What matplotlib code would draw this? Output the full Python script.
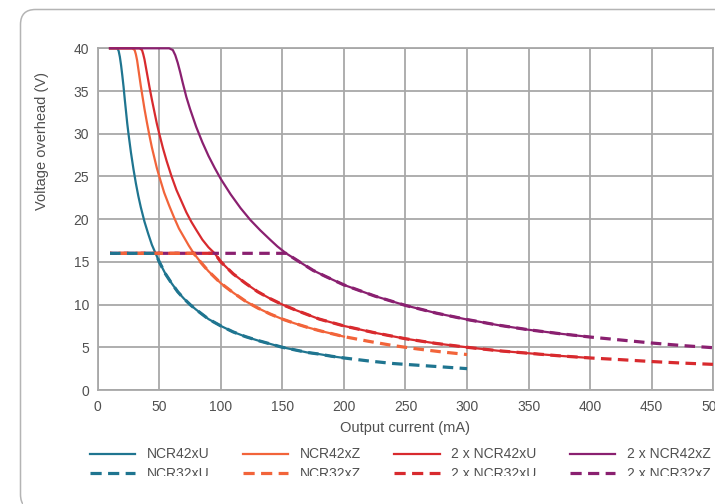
import matplotlib
matplotlib.use("Agg")
import matplotlib.pyplot as plt
from matplotlib.patches import FancyBboxPatch, Rectangle
from matplotlib.lines import Line2D

plt.rcParams['font.family'] = ['Liberation Sans', 'DejaVu Sans']

# ---- data ----
x_42U = [10, 16, 17, 18, 19, 20, 21, 22, 23, 24, 25, 27, 29, 31, 33, 35, 38, 41, 44, 47, 50, 55, 60, 65, 70, 75, 80, 90,
         100, 110, 120, 130, 140, 150, 160, 170, 180, 190, 200]
y_42U = [40, 40, 39.7, 39.0, 38.0, 36.8, 35.5, 34.0, 32.6, 31.2, 30.0, 27.8, 25.9, 24.2, 22.7, 21.4, 19.7, 18.3, 17.0,
         16.0, 15.0, 13.6, 12.5, 11.5, 10.7, 10.0, 9.4, 8.3, 7.5, 6.8, 6.25, 5.8, 5.4, 5.0, 4.7, 4.4, 4.2, 3.95, 3.75]
x_32U = [10, 47, 50, 55, 60, 65, 70, 75, 80, 90, 100, 110, 120, 130, 140, 150, 160, 170, 180, 190, 200,
         220, 240, 260, 280, 300]
y_32U = [16, 16, 15.0, 13.6, 12.5, 11.5, 10.7, 10.0, 9.4, 8.3, 7.5, 6.8, 6.25, 5.8, 5.4, 5.0, 4.7, 4.4, 4.2, 3.95, 3.75,
         3.4, 3.1, 2.9, 2.7, 2.5]

x_42Z = [10, 28, 30, 31, 32, 33, 34, 35, 36, 38, 40, 42, 44, 46, 48, 50, 54, 58, 62, 66, 70, 74, 78, 84, 90, 95,
         100, 110, 120, 130, 140, 150, 160, 170, 180, 190, 200]
y_42Z = [40, 40, 39.8, 39.3, 38.6, 37.6, 36.6, 35.6, 34.7, 32.9, 31.3, 29.8, 28.4, 27.2, 26.0, 25.0, 23.1, 21.6, 20.2,
         18.9, 17.9, 16.9, 16.0, 14.9, 13.9, 13.2, 12.5, 11.4, 10.4, 9.6, 8.9, 8.3, 7.8, 7.35, 6.95, 6.6, 6.25]
x_32Z = [10, 78, 84, 90, 95, 100, 110, 120, 130, 140, 150, 160, 170, 180, 190, 200, 220, 240, 260, 280, 300]
y_32Z = [16, 16, 14.9, 13.9, 13.2, 12.5, 11.4, 10.4, 9.6, 8.9, 8.3, 7.8, 7.35, 6.95, 6.6, 6.25, 5.7, 5.2, 4.8, 4.45,
         4.15]

x_2x42U = [10, 34, 36, 37, 38, 39, 40, 41, 42, 44, 46, 48, 50, 53, 56, 60, 64, 68, 72, 76, 80, 85, 90, 95, 100, 110,
           120, 130, 140, 150, 160, 180, 200, 225, 250, 275, 300, 325, 350, 375, 400]
y_2x42U = [40, 40, 39.8, 39.3, 38.7, 37.9, 37.1, 36.3, 35.5, 34.0, 32.6, 31.2, 30.0, 28.3, 26.8, 25.0, 23.4, 22.1,
           20.8, 19.7, 18.75, 17.6, 16.7, 16.0, 15.0, 13.6, 12.5, 11.5, 10.7, 10.0, 9.4, 8.3, 7.5, 6.7, 6.0, 5.45,
           5.0, 4.6, 4.3, 4.0, 3.75]
x_2x32U = [10, 95, 100, 110, 120, 130, 140, 150, 160, 180, 200, 225, 250, 275, 300, 325, 350, 375, 400, 425, 450,
           475, 500]
y_2x32U = [16, 16, 15.0, 13.6, 12.5, 11.5, 10.7, 10.0, 9.4, 8.3, 7.5, 6.7, 6.0, 5.45, 5.0, 4.6, 4.3, 4.0, 3.75, 3.55,
           3.33, 3.15, 3.0]

x_2x42Z = [10, 58, 61, 63, 65, 67, 69, 72, 75, 80, 85, 90, 95, 100, 108, 116, 124, 132, 140, 146, 153, 165, 175, 185,
           200, 225, 250, 275, 300, 325, 350, 375, 400]
y_2x42Z = [40, 40, 39.8, 39.2, 38.3, 37.2, 36.0, 34.3, 32.9, 30.8, 29.0, 27.4, 26.0, 24.7, 22.9, 21.3, 19.9, 18.7,
           17.6, 16.8, 16.0, 14.9, 14.0, 13.3, 12.3, 11.0, 9.9, 9.0, 8.25, 7.6, 7.05, 6.6, 6.2]
x_2x32Z = [10, 153, 165, 175, 185, 200, 225, 250, 275, 300, 325, 350, 375, 400, 425, 450, 475, 500]
y_2x32Z = [16, 16, 14.9, 14.0, 13.3, 12.3, 11.0, 9.9, 9.0, 8.25, 7.6, 7.05, 6.6, 6.2, 5.85, 5.5, 5.2, 4.95]

labels = ["NCR42xU", "NCR32xU", "NCR42xZ", "NCR32xZ",
          "2 x NCR42xU", "2 x NCR32xU", "2 x NCR42xZ", "2 x NCR32xZ"]
x_ticks = [0, 50, 100, 150, 200, 250, 300, 350, 400, 450, 500]
y_ticks = [0, 5, 10, 15, 20, 25, 30, 35, 40]

TEAL = "#1f7590"
ORANGE = "#f2643a"
RED = "#d82a2e"
PURPLE = "#8a2070"
GRID = "#a8a8a8"
TXT = "#505050"

W, H = 715, 504
fig = plt.figure(figsize=(W / 100, H / 100), dpi=100)

# background frame
bg = fig.add_axes([0, 0, 1, 1])
bg.set_xlim(0, W)
bg.set_ylim(H, 0)
bg.axis("off")
bg.add_patch(FancyBboxPatch((20.5, 9.5), 820, 500, boxstyle="round,pad=0,rounding_size=15",
                            facecolor="white", edgecolor="#b4b4b4", linewidth=1.1))

L, R, T, B = 97.7, 713.3, 48.3, 390.0
ax = fig.add_axes([L / W, 1 - B / H, (R - L) / W, (B - T) / H])
ax.set_xlim(0, 500)
ax.set_ylim(0, 40)
ax.set_xticks(x_ticks)
ax.set_yticks(y_ticks)
ax.grid(True, color=GRID, linewidth=1.3)
ax.set_axisbelow(True)
for s in ax.spines.values():
    s.set_color(GRID)
    s.set_linewidth(1.3)
ax.tick_params(length=0, labelsize=10, colors=TXT)
ax.tick_params(axis="x", pad=7)
ax.tick_params(axis="y", pad=6)
ax.set_xlabel("Output current (mA)", fontsize=10.5, color=TXT, labelpad=5)
fig.text(41.7 / W, 1 - 141.5 / H, "Voltage overhead (V)", rotation=90, fontsize=10.5,
         color=TXT, ha="center", va="center")

slw, dlw = 1.6, 2.3
dash = (3.3, 2.0)

solid = [(x_42U, y_42U, TEAL), (x_42Z, y_42Z, ORANGE), (x_2x42U, y_2x42U, RED), (x_2x42Z, y_2x42Z, PURPLE)]
dashed = [(x_2x32Z, y_2x32Z, PURPLE, 1.0), (x_2x32U, y_2x32U, RED, 3.0),
          (x_32Z, y_32Z, ORANGE, 2.6), (x_32U, y_32U, TEAL, 0.0)]

for xs, ys, c in solid:
    ax.plot(xs, ys, color=c, lw=slw, clip_on=False, solid_joinstyle="round", zorder=3)
for xs, ys, c, off in dashed:
    ax.plot(xs, ys, color=c, lw=dlw, clip_on=False, linestyle=(off, dash), zorder=4,
            dash_capstyle="butt", dash_joinstyle="round")

colors = [TEAL, TEAL, ORANGE, ORANGE, RED, RED, PURPLE, PURPLE]
handles = []
for i, (lab, c) in enumerate(zip(labels, colors)):
    if i % 2 == 0:
        handles.append(Line2D([], [], color=c, lw=slw, label=lab))
    else:
        handles.append(Line2D([], [], color=c, lw=dlw, linestyle=(0, (3.5, 2.0)), label=lab))

fs_leg = 10
leg = fig.legend(handles=handles, ncol=4, loc="upper left",
                 bbox_to_anchor=(90 / W, 1 - 447.5 / H), frameon=False,
                 fontsize=fs_leg, handlelength=3.25, handletextpad=0.85,
                 columnspacing=2.4, labelspacing=0.36, borderpad=0, borderaxespad=0)
for t in leg.get_texts():
    t.set_color(TXT)

# white band hiding the lower part of the legend (as in the reference)
bg2 = fig.add_axes([0, 0, 1, 1], zorder=10)
bg2.set_xlim(0, W)
bg2.set_ylim(H, 0)
bg2.axis("off")
bg2.patch.set_alpha(0)
bg2.add_patch(Rectangle((22.5, 476.0), 800, 40, facecolor="white", edgecolor="none"))

fig.savefig("out.png", dpi=100)
